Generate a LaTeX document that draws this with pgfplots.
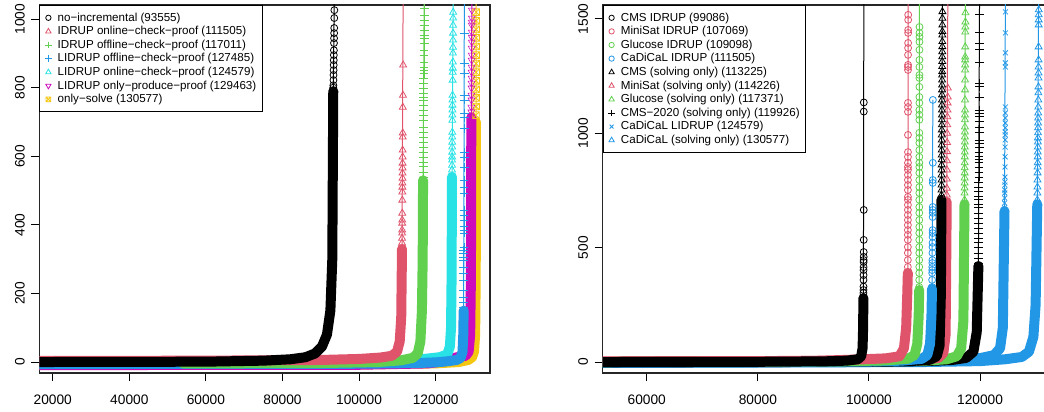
\documentclass[border=0pt]{standalone}
\usepackage{fontspec}
\setmainfont{Liberation Sans}
\usepackage{pgfplots}
\pgfplotsset{compat=1.18}
\usetikzlibrary{plotmarks}

% R 4.x palette
\definecolor{rA}{HTML}{DF536B}
\definecolor{gA}{HTML}{61D04F}
\definecolor{bA}{HTML}{2297E6}
\definecolor{cA}{HTML}{28E2E5}
\definecolor{mA}{HTML}{CD0BBC}
\definecolor{yA}{HTML}{F5C710}

\newcommand{\lgf}{\fontsize{8.7}{10.4}\selectfont}

% square with a cross (R pch 7)
\pgfdeclareplotmark{sqx}{%
  \pgfpathrectangle{\pgfpoint{-\pgfplotmarksize}{-\pgfplotmarksize}}{\pgfpoint{2\pgfplotmarksize}{2\pgfplotmarksize}}%
  \pgfpathmoveto{\pgfpoint{-\pgfplotmarksize}{-\pgfplotmarksize}}\pgfpathlineto{\pgfpoint{\pgfplotmarksize}{\pgfplotmarksize}}%
  \pgfpathmoveto{\pgfpoint{-\pgfplotmarksize}{\pgfplotmarksize}}\pgfpathlineto{\pgfpoint{\pgfplotmarksize}{-\pgfplotmarksize}}%
  \pgfusepathqstroke}

\pgfplotsset{
  rpanel/.style={
    scale only axis, anchor=south west,
    axis line style={black!85, line width=0.8pt},
    tick align=outside, tick pos=left, major tick length=6pt,
    tick style={black, line width=0.7pt},
    ticklabel style={font=\fontsize{10.3}{12}\selectfont},
    xticklabel style={anchor=base, yshift=-17.25pt},
    yticklabel style={xshift=-5pt, rotate=90, anchor=base},
    scaled ticks=false,
    legend cell align=left,
    legend image code/.code={\draw[mark repeat=2,mark phase=2,##1] plot coordinates {(0pt,0pt)(2.5pt,0pt)(5pt,0pt)};},
    legend style={at={(0,1)}, anchor=north west, draw=black, line width=0.6pt, fill=white,
      inner xsep=4pt, inner ysep=4.5pt, row sep=0.6pt, column sep=4pt,
      font=\lgf,
      nodes={font=\lgf, inner sep=0.5pt, text height=6.8pt, text depth=1.8pt}},
  },
  band/.style={line width=7.5pt, line cap=round, line join=round, forget plot},
  thinl/.style={line width=0.75pt, forget plot},
  pts/.style={only marks, mark options={line width=0.6pt, fill=none}, forget plot},
  lg/.style={only marks, mark size=2pt, mark options={line width=0.6pt, fill=none}},
}

\begin{document}
\begin{tikzpicture}
\path[use as bounding box] (0,0) rectangle (783pt,308.25pt);

% ---------------- left panel ----------------
\begin{axis}[rpanel, at={(29.5pt,28.5pt)}, width=338pt, height=276pt,
  xmin=16500, xmax=134180, ymin=-32, ymax=1041,
  xtick={20000,40000,60000,80000,100000,120000},
  xticklabels={20000,40000,60000,80000,100000,120000},
  ytick={0,200,400,600,800,1000}, yticklabels={0,200,400,600,800,1000}]
\addlegendimage{lg, black, mark=o}\addlegendentry{\lgf no−incremental (93555)}
\addlegendimage{lg, rA, mark=triangle, mark size=2.3pt}\addlegendentry{\lgf IDRUP online−check−proof (111505)}
\addlegendimage{lg, gA, mark=+, mark size=2.5pt}\addlegendentry{\lgf IDRUP offline−check−proof (117011)}
\addlegendimage{lg, bA, mark=+, mark size=2.5pt}\addlegendentry{\lgf LIDRUP offline−check−proof (127485)}
\addlegendimage{lg, cA, mark=triangle, mark size=2.3pt}\addlegendentry{\lgf LIDRUP online−check−proof (124579)}
\addlegendimage{lg, mA, mark=triangle, mark size=2.3pt, mark options={rotate=180}}\addlegendentry{\lgf LIDRUP only−produce−proof (129463)}
\addlegendimage{lg, yA, mark=sqx, mark size=1.8pt}\addlegendentry{\lgf only−solve (130577)}

% only-solve
\addplot[band, yA] coordinates {(16500,-8)(100000,-7)(120000,-4)(126000,0)(128500,6)(129500,14)(130000,30)(130300,80)(130450,250)(130520,700)};
\addplot[thinl, yA] coordinates {(130520,700)(130577,1100)};
\addplot[pts, yA, mark=sqx, mark size=2.5pt] coordinates {(130525,720)(130530,745)(130535,770)(130540,795)(130545,820)(130548,845)(130551,870)(130554,895)(130557,920)(130560,945)(130563,970)(130566,995)(130569,1020)};
% LIDRUP only-produce-proof
\addplot[band, mA] coordinates {(16500,-9)(100000,-8)(118000,-4)(122000,2)(124000,10)(126000,15)(127800,18)(128600,30)(129000,80)(129200,250)(129300,714)};
\addplot[thinl, mA] coordinates {(129300,714)(129463,1100)};
\addplot[pts, mA, mark=triangle, mark size=3pt, mark options={rotate=180}] coordinates {(129310,729)(129320,743)(129330,764)(129340,778)(129350,799)(129360,813)(129370,828)(129380,845)(129390,860)(129400,880)(129405,895)(129410,915)(129415,933)(129420,947)(129425,962)(129430,982)(129435,991)(129440,1003)(129450,1026)};
% LIDRUP online-check-proof
\addplot[band, cA] coordinates {(16500,-2)(100000,0)(112000,4)(117000,9)(121000,14)(123000,22)(123700,45)(124000,100)(124150,250)(124250,540)};
\addplot[thinl, cA] coordinates {(124250,540)(124579,1100)};
\addplot[pts, cA, mark=triangle, mark size=3pt] coordinates {(124260,560)(124270,574)(124280,589)(124290,598)(124300,612)(124310,627)(124320,641)(124330,656)(124340,670)(124350,705)(124360,720)(124370,735)(124380,749)(124390,764)(124400,778)(124420,822)(124440,845)(124460,857)(124480,875)(124500,901)(124510,918)(124520,939)(124530,959)(124540,982)(124550,1003)(124560,1020)};
% LIDRUP offline-check-proof
\addplot[band, bA] coordinates {(16500,-6)(100000,-5)(115000,-3)(120000,-1)(123000,2)(125500,6)(126500,12)(127000,30)(127200,80)(127300,150)};
\addplot[thinl, bA] coordinates {(127300,150)(127485,1100)};
\addplot[pts, bA, mark=+, mark size=3.3pt] coordinates {(127310,160)(127315,175)(127320,189)(127325,210)(127330,239)(127335,259)(127340,277)(127345,297)(127350,306)(127355,318)(127360,326)(127365,335)(127370,376)(127375,385)(127380,394)(127385,414)(127390,428)(127395,443)(127400,493)(127405,510)(127410,531)(127415,568)(127420,598)(127425,612)(127430,682)(127435,714)(127440,726)(127445,764)(127450,778)(127460,842)(127470,872)(127480,959)};
% IDRUP offline-check-proof
\addplot[band, gA] coordinates {(54000,-4)(90000,-3)(105000,0)(111000,5)(114000,12)(115300,25)(116000,60)(116400,150)(116600,300)(116700,530)};
\addplot[thinl, gA] coordinates {(116700,530)(117011,1100)};
\addplot[pts, gA, mark=+, mark size=3.3pt] coordinates {(116710,539)(116720,554)(116730,569)(116740,583)(116750,598)(116760,612)(116770,627)(116780,641)(116790,656)(116800,670)(116810,685)(116820,705)(116830,720)(116840,735)(116850,749)(116860,764)(116870,772)(116880,784)(116890,799)(116900,813)(116910,828)(116920,842)(116930,851)(116940,860)(116950,875)(116960,895)(116965,909)(116970,930)(116975,944)(116980,953)(116985,968)(116990,982)(116995,997)(117000,1011)(117005,1031)};
% IDRUP online-check-proof
\addplot[band, rA] coordinates {(16500,3)(60000,4)(90000,6)(100000,9)(105500,13)(108500,18)(109900,30)(110600,60)(111000,130)(111200,330)};
\addplot[thinl, rA] coordinates {(111200,330)(111505,1100)};
\addplot[pts, rA, mark=triangle, mark size=3pt] coordinates {(111210,347)(111220,361)(111230,376)(111240,385)(111250,405)(111260,414)(111270,434)(111280,472)(111290,496)(111300,510)(111310,522)(111320,536)(111330,551)(111340,566)(111350,580)(111360,598)(111370,618)(111380,656)(111390,668)(111400,743)(111450,778)(111500,866)};
% no-incremental
\addplot[band, black] coordinates {(16500,0)(60000,1)(75000,4)(82000,8)(86000,14)(88500,25)(90300,45)(91600,80)(92500,150)(93000,300)(93250,790)};
\addplot[thinl, black] coordinates {(93250,790)(93555,1100)};
\addplot[pts, black, mark=o, mark size=2.6pt] coordinates {(93260,800)(93280,807)(93300,822)(93320,837)(93340,851)(93360,866)(93380,880)(93400,895)(93420,909)(93440,930)(93460,944)(93480,959)(93500,974)(93520,1003)(93540,1026)};
\end{axis}

% ---------------- right panel ----------------
\begin{axis}[rpanel, at={(451.9pt,28.5pt)}, width=335.6pt, height=276pt,
  xmin=52044, xmax=132594, ymin=-48, ymax=1561,
  xtick={60000,80000,100000,120000},
  xticklabels={60000,80000,100000,120000},
  ytick={0,500,1000,1500}, yticklabels={0,500,1000,1500}]
\addlegendimage{lg, black, mark=o}\addlegendentry{\lgf CMS IDRUP (99086)}
\addlegendimage{lg, rA, mark=o}\addlegendentry{\lgf MiniSat IDRUP (107069)}
\addlegendimage{lg, gA, mark=o}\addlegendentry{\lgf Glucose IDRUP (109098)}
\addlegendimage{lg, bA, mark=o}\addlegendentry{\lgf CaDiCaL IDRUP (111505)}
\addlegendimage{lg, black, mark=triangle, mark size=2.3pt}\addlegendentry{\lgf CMS (solving only) (113225)}
\addlegendimage{lg, rA, mark=triangle, mark size=2.3pt}\addlegendentry{\lgf MiniSat (solving only) (114226)}
\addlegendimage{lg, gA, mark=triangle, mark size=2.3pt}\addlegendentry{\lgf Glucose (solving only) (117371)}
\addlegendimage{lg, black, mark=+, mark size=2.5pt}\addlegendentry{\lgf CMS−2020 (solving only) (119926)}
\addlegendimage{lg, bA, mark=x, mark size=2pt}\addlegendentry{\lgf CaDiCaL LIDRUP (124579)}
\addlegendimage{lg, bA, mark=triangle, mark size=2.3pt}\addlegendentry{\lgf CaDiCaL (solving only) (130577)}

% CaDiCaL (solving only)
\addplot[band, bA] coordinates {(52044,-4)(110000,0)(120000,4)(124500,12)(127500,22)(128800,45)(129600,110)(130000,250)(130300,690)};
\addplot[thinl, bA] coordinates {(130300,690)(130577,1700)};
\addplot[pts, bA, mark=triangle, mark size=3pt] coordinates {(130310,709)(130320,739)(130330,765)(130340,796)(130350,827)(130360,853)(130370,871)(130380,897)(130390,918)(130400,940)(130410,962)(130420,980)(130430,1002)(130440,1024)(130450,1045)(130460,1067)(130470,1089)(130480,1115)(130490,1146)(130500,1177)(130510,1203)(130520,1242)(130525,1264)(130530,1290)(130535,1321)(130540,1378)(130550,1474)(130555,1496)(130560,1518)(130570,1540)};
% CaDiCaL LIDRUP
\addplot[band, bA] coordinates {(52044,-3)(100000,0)(110000,4)(115000,9)(120000,17)(122500,30)(123600,60)(124100,150)(124400,660)};
\addplot[thinl, bA] coordinates {(124400,660)(124579,1700)};
\addplot[pts, bA, mark=x, mark size=2.6pt] coordinates {(124410,674)(124420,695)(124430,717)(124440,739)(124450,752)(124460,774)(124470,787)(124480,809)(124490,853)(124500,897)(124510,940)(124520,971)(124525,993)(124530,1006)(124535,1024)(124540,1045)(124545,1067)(124550,1089)(124555,1115)(124560,1290)(124565,1308)(124570,1352)(124575,1439)(124578,1531)};
% CMS-2020 (solving only)
\addplot[band, black] coordinates {(52044,-2)(100000,1)(110000,4)(115000,9)(117500,18)(118800,45)(119400,130)(119700,420)};
\addplot[thinl, black] coordinates {(119700,420)(119926,1700)};
\addplot[pts, black, mark=+, mark size=3.3pt] coordinates {(119705,433)(119710,455)(119715,477)(119720,499)(119725,521)(119730,542)(119735,564)(119740,586)(119745,608)(119750,630)(119755,652)(119760,674)(119765,687)(119770,709)(119775,722)(119780,744)(119785,765)(119790,787)(119795,809)(119800,827)(119805,849)(119810,871)(119815,884)(119820,897)(119825,918)(119830,940)(119835,958)(119840,971)(119845,1002)(119850,1006)(119855,1028)(119860,1050)(119865,1072)(119870,1089)(119875,1102)(119880,1159)(119885,1203)(119890,1220)(119895,1312)(119900,1365)(119905,1395)(119910,1443)(119920,1518)};
% Glucose (solving only)
\addplot[band, gA] coordinates {(52044,0)(100000,3)(110000,6)(114000,12)(115800,25)(116600,60)(117000,180)(117200,690)};
\addplot[thinl, gA] coordinates {(117200,690)(117371,1700)};
\addplot[pts, gA, mark=triangle, mark size=3pt] coordinates {(117205,709)(117210,739)(117215,761)(117220,783)(117225,805)(117230,827)(117235,849)(117240,871)(117245,897)(117250,918)(117255,940)(117260,962)(117265,984)(117270,1006)(117275,1028)(117280,1059)(117285,1080)(117290,1102)(117295,1146)(117300,1190)(117305,1233)(117310,1277)(117315,1299)(117320,1321)(117325,1334)(117330,1378)(117340,1443)(117350,1465)(117360,1487)(117370,1527)};
% MiniSat (solving only)
\addplot[band, rA] coordinates {(52044,3)(100000,5)(110000,9)(112500,18)(113400,40)(113800,120)(114000,700)};
\addplot[thinl, rA] coordinates {(114000,700)(114226,1700)};
\addplot[pts, rA, mark=triangle, mark size=3pt] coordinates {(114010,730)(114020,760)(114030,800)(114040,840)(114050,880)(114060,920)(114070,960)(114080,1000)(114100,1037)(114120,1072)(114140,1102)(114160,1133)(114180,1159)(114200,1198)};
% CMS (solving only)
\addplot[band, black] coordinates {(52044,0)(100000,2)(108000,5)(111000,10)(112200,25)(112700,70)(112950,300)(113050,710)};
\addplot[thinl, black] coordinates {(113050,710)(113225,1700)};
\addplot[pts, black, mark=triangle, mark size=3pt] coordinates {(113055,730)(113060,752)(113065,774)(113070,796)(113075,818)(113080,840)(113085,862)(113090,884)(113095,905)(113100,927)(113105,949)(113110,971)(113115,993)(113120,1015)(113125,1037)(113130,1059)(113135,1080)(113140,1102)(113145,1124)(113150,1146)(113155,1168)(113160,1190)(113165,1211)(113170,1233)(113175,1255)(113180,1270)(113185,1292)(113190,1314)(113195,1335)(113200,1357)(113205,1379)(113210,1401)(113213,1430)(113216,1445)(113219,1474)(113222,1503)(113224,1532)};
% CaDiCaL IDRUP
\addplot[band, bA] coordinates {(52044,-2)(100000,2)(106000,6)(109500,14)(110500,30)(111000,80)(111250,200)(111350,320)};
\addplot[thinl, bA] coordinates {(111350,320)(111505,1146)};
\addplot[pts, bA, mark=o, mark size=2.6pt] coordinates {(111360,328)(111370,359)(111380,389)(111390,402)(111400,416)(111410,433)(111420,446)(111430,477)(111440,503)(111450,521)(111455,547)(111460,564)(111465,577)(111470,634)(111475,652)(111480,665)(111485,678)(111490,783)(111495,796)(111500,871)(111505,1146)};
% Glucose IDRUP
\addplot[band, gA] coordinates {(52044,0)(95000,3)(103000,7)(107000,14)(108200,30)(108700,80)(108950,200)(109050,315)};
\addplot[thinl, gA] coordinates {(109050,315)(109098,1700)};
\addplot[pts, gA, mark=o, mark size=2.6pt] coordinates {(109051,328)(109052,359)(109053,389)(109054,416)(109055,446)(109056,477)(109057,503)(109058,534)(109059,564)(109060,591)(109061,621)(109062,652)(109063,678)(109064,709)(109065,739)(109066,765)(109067,796)(109068,827)(109069,853)(109070,871)(109071,897)(109072,927)(109073,958)(109074,980)(109075,1002)(109076,1059)(109077,1081)(109078,1102)(109079,1133)(109080,1159)(109082,1203)(109084,1242)(109086,1255)(109088,1290)(109090,1321)(109092,1365)(109094,1400)(109095,1422)(109096,1439)(109097,1465)};
% MiniSat IDRUP
\addplot[band, rA] coordinates {(52044,2)(90000,5)(98000,11)(103000,16)(105500,25)(106300,60)(106700,150)(106900,300)(107000,390)};
\addplot[thinl, rA] coordinates {(107000,390)(107069,1700)};
\addplot[pts, rA, mark=o, mark size=2.6pt] coordinates {(107001,416)(107002,446)(107003,477)(107004,503)(107005,534)(107006,556)(107007,577)(107008,599)(107009,621)(107010,643)(107011,665)(107012,687)(107013,709)(107014,722)(107015,752)(107016,774)(107017,796)(107018,818)(107019,840)(107020,853)(107021,871)(107022,897)(107023,918)(107024,993)(107025,1094)(107026,1115)(107027,1133)(107030,1277)(107033,1290)(107036,1299)(107040,1343)(107044,1373)(107048,1395)(107052,1439)(107056,1452)(107060,1496)(107064,1518)};
% CMS IDRUP
\addplot[band, black] coordinates {(52044,0)(80000,1)(92000,3)(96000,6)(98000,12)(98600,25)(98850,60)(98950,150)(99000,280)};
\addplot[thinl, black] coordinates {(99000,280)(99086,1700)};
\addplot[pts, black, mark=o, mark size=2.6pt] coordinates {(99005,302)(99010,315)(99015,330)(99020,359)(99025,380)(99030,402)(99035,415)(99040,437)(99045,446)(99050,460)(99055,481)(99060,534)(99065,665)(99070,1095)(99075,1135)};
\end{axis}
\end{tikzpicture}
\end{document}
